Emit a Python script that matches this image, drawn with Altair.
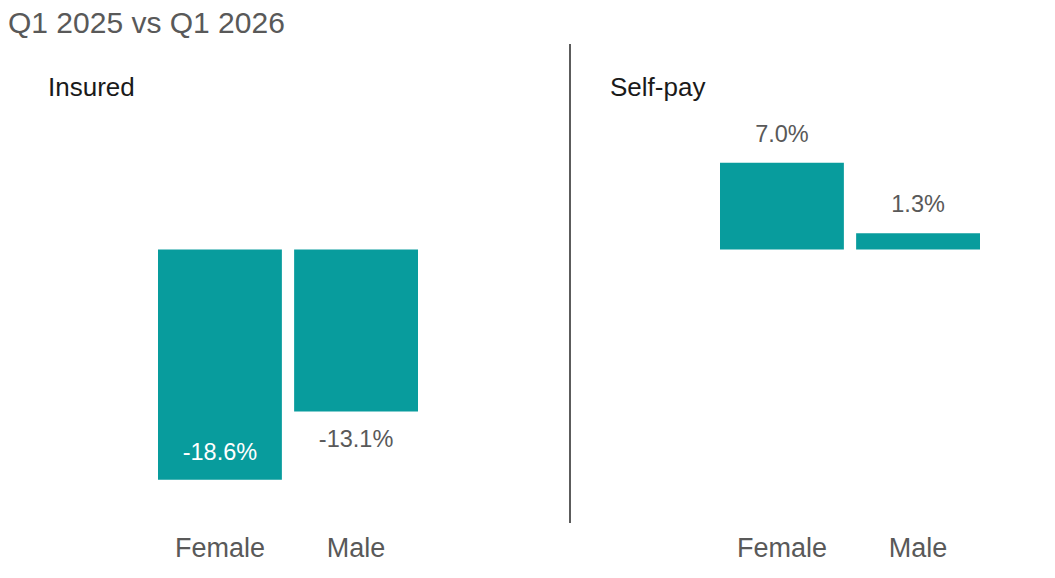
import altair as alt
import pandas as pd

groups = ["Insured", "Insured", "Self-pay", "Self-pay"]
genders = ["Female", "Male", "Female", "Male"]
changes = [-18.6, -13.1, 7.0, 1.3]
label_pos = ["inside", "below", "above", "above"]

df = pd.DataFrame({"group": groups, "gender": genders, "change": changes, "pos": label_pos})
df["label"] = df["change"].map(lambda v: f"{v:.1f}%")

TEAL = "#089c9d"
FONT = "Liberation Sans"
H = 479
y_scale = alt.Scale(domain=[-22.1, 16.6], nice=False, zero=False)


def panel(name, width, divider=False):
    base = alt.Chart(df).transform_filter(alt.datum.group == name)
    x = alt.X("gender:N", title=None,
              scale=alt.Scale(range=[150, 410], paddingInner=0.09, paddingOuter=0),
              axis=alt.Axis(domain=False, ticks=False, labelAngle=0, labelFontSize=27,
                            labelColor="#595959", labelPadding=12, labelFont=FONT))
    y = alt.Y("change:Q", scale=y_scale, axis=None)

    bars = base.mark_bar(color=TEAL).encode(x=x, y=y, y2=alt.datum(0))
    above = base.transform_filter(alt.datum.pos == "above").mark_text(
        fontSize=23.5, color="#595959", baseline="middle", dy=-28, font=FONT
    ).encode(x=x, y=y, text="label:N")
    below = base.transform_filter(alt.datum.pos == "below").mark_text(
        fontSize=23.5, color="#595959", baseline="middle", dy=28, font=FONT
    ).encode(x=x, y=y, text="label:N")
    inside = base.transform_filter(alt.datum.pos == "inside").mark_text(
        fontSize=23.5, color="white", baseline="middle", dy=-27, font=FONT
    ).encode(x=x, y=y, text="label:N")
    header = alt.Chart(pd.DataFrame({"t": [name]})).mark_text(
        fontSize=26, color="#1a1a1a", align="left", baseline="middle", font=FONT
    ).encode(x=alt.value(40), y=alt.value(44), text="t:N")

    layers = [bars, above, below, inside, header]
    if divider:
        rule = alt.Chart(pd.DataFrame({"t": [0]})).mark_rule(color="#262626", strokeWidth=1.5).encode(
            x=alt.value(0), y=alt.value(0), y2=alt.value(H))
        layers.append(rule)
    return alt.layer(*layers).properties(width=width, height=H)


left = panel("Insured", 561)
right = panel("Self-pay", 470, divider=True)

chart = alt.hconcat(left, right, spacing=0).properties(
    title=alt.TitleParams("Q1 2025 vs Q1 2026", anchor="start", fontSize=30, color="#595959",
                          font=FONT, fontWeight="normal", offset=4),
    padding={"left": 0, "top": 1, "right": 0, "bottom": 0},
).configure_view(stroke=None)

chart.save("out.html", embed_options={"renderer": "svg", "actions": False})
